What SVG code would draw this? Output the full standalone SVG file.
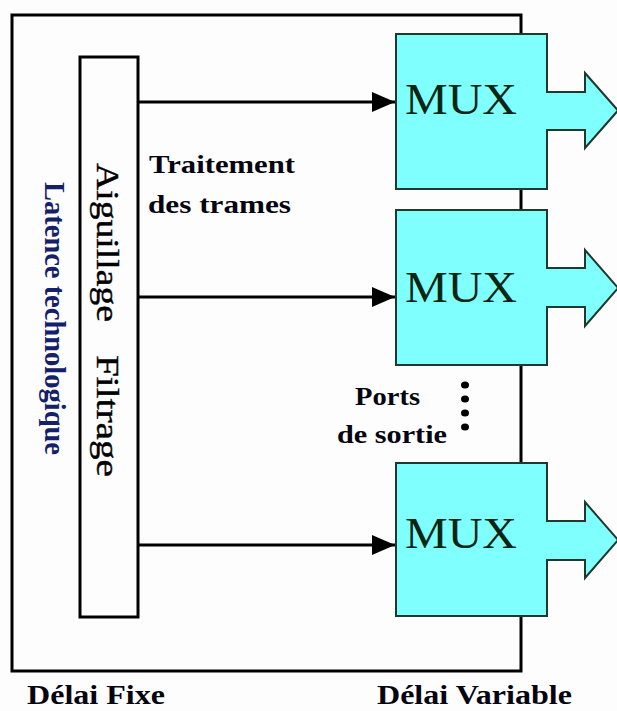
<svg xmlns="http://www.w3.org/2000/svg" width="617" height="711" viewBox="0 0 617 711">
<defs>
<style>
.frame{fill:none;stroke:#000;stroke-width:3}
.mux path{fill:#80ffff;stroke:#1f3a2c;stroke-width:2;stroke-linejoin:miter}
.mux text{font-family:"Liberation Serif","Times New Roman",serif;font-size:44px;fill:#0a2612}
.lbl{font-family:"Liberation Serif","Times New Roman",serif;font-weight:bold;font-size:26px;fill:#050510}
.conn line{stroke:#000;stroke-width:3}
.vt{font-family:"Liberation Serif","Times New Roman",serif;font-size:32px;fill:#000}
</style>
<marker id="ah" markerUnits="userSpaceOnUse" markerWidth="24" markerHeight="20" refX="23" refY="10" orient="auto">
<path d="M0,0 L23,10 L0,20 Z" fill="#000"/>
</marker>
</defs>
<rect width="617" height="711" fill="#fdfdfd"/>
<g id="frame">
<rect class="frame" x="12" y="15" width="509" height="656"/>
</g>
<g id="switch">
<rect class="frame" x="80" y="57" width="58" height="560" fill="#fff"/>
<text class="vt" transform="translate(97,163) rotate(90)" textLength="159" lengthAdjust="spacingAndGlyphs" stroke="#000" stroke-width="0.4">Aiguillage</text>
<text class="vt" transform="translate(97,355) rotate(90)" textLength="122" lengthAdjust="spacingAndGlyphs" stroke="#000" stroke-width="0.4">Filtrage</text>
</g>
<g id="latence">
<text class="lbl" transform="translate(45,182) rotate(90)" style="fill:#14206a;font-size:29px" textLength="273" lengthAdjust="spacingAndGlyphs">Latence technologique</text>
</g>
<g class="conn" id="connectors">
<line x1="138" y1="102" x2="395" y2="102" marker-end="url(#ah)"/>
<line x1="138" y1="297" x2="395" y2="297" marker-end="url(#ah)"/>
<line x1="138" y1="545" x2="395" y2="545" marker-end="url(#ah)"/>
</g>
<g id="mux1" class="mux">
<path d="M396,34 H547 V92 H585 V73 L618,110.5 L585,148 V130 H547 V189 H396 Z"/>
<text x="405" y="114" textLength="112" lengthAdjust="spacingAndGlyphs">MUX</text>
</g>
<g id="mux2" class="mux">
<path d="M396,210 H547 V268 H585 V250 L618,288 L585,326 V307 H547 V365 H396 Z"/>
<text x="405" y="302" textLength="112" lengthAdjust="spacingAndGlyphs">MUX</text>
</g>
<g id="mux3" class="mux">
<path d="M396,463 H547 V521 H585 V502 L618,540 L585,578 V560 H547 V616 H396 Z"/>
<text x="405" y="548" textLength="112" lengthAdjust="spacingAndGlyphs">MUX</text>
</g>
<g id="traitement">
<text class="lbl" x="149" y="173" textLength="146" lengthAdjust="spacingAndGlyphs">Traitement</text>
<text class="lbl" x="148" y="213" textLength="143" lengthAdjust="spacingAndGlyphs">des trames</text>
</g>
<g id="ports">
<text class="lbl" x="355" y="405" textLength="65" lengthAdjust="spacingAndGlyphs">Ports</text>
<text class="lbl" x="337" y="443" textLength="110" lengthAdjust="spacingAndGlyphs">de sortie</text>
<ellipse cx="465" cy="385" rx="4" ry="3.5" fill="#000"/>
<ellipse cx="465" cy="399" rx="4" ry="3.5" fill="#000"/>
<ellipse cx="465" cy="413" rx="4" ry="3.5" fill="#000"/>
<ellipse cx="465" cy="427" rx="4" ry="3.5" fill="#000"/>
</g>
<g id="footer">
<text class="lbl" x="27" y="704" style="font-size:27px" textLength="138" lengthAdjust="spacingAndGlyphs">Délai Fixe</text>
<text class="lbl" x="377" y="704" style="font-size:27px" textLength="195" lengthAdjust="spacingAndGlyphs">Délai Variable</text>
</g>
</svg>
